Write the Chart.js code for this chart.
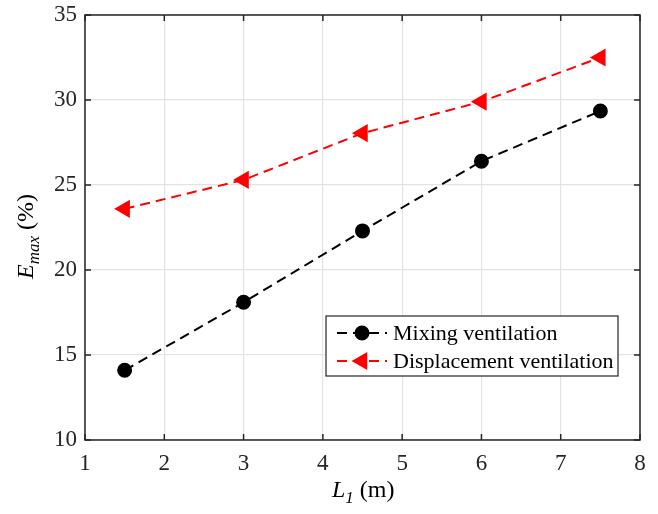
<!DOCTYPE html>
<html>
<head>
<meta charset="utf-8">
<script src="https://cdn.jsdelivr.net/npm/chart.js@4"></script>
<style>
  body { margin: 0; background: #fff; }
  #wrap { width: 658px; height: 514px; }
</style>
</head>
<body>
<div id="wrap"><canvas id="chart" width="658" height="514"></canvas></div>
<script>
// data
const lengths = [1.5, 3, 4.5, 6, 7.5];
const mixing = [14.1, 18.1, 22.3, 26.4, 29.35];
const displacement = [23.6, 25.3, 28.05, 29.9, 32.5];
const xTicks = [1, 2, 3, 4, 5, 6, 7, 8];
const yTicks = [10, 15, 20, 25, 30, 35];

const serif = '"Liberation Serif", "Times New Roman", serif';
const axisColor = '#262626';

// frame, inward ticks, axis titles and legend (MATLAB style)
const decorations = {
  id: 'decorations',
  afterDraw(chart) {
    const ctx = chart.ctx;
    const area = chart.chartArea;
    const xs = chart.scales.x, ys = chart.scales.y;
    ctx.save();
    ctx.strokeStyle = axisColor;
    ctx.lineWidth = 1.5;
    ctx.strokeRect(area.left, area.top, area.right - area.left, area.bottom - area.top);
    const tl = 6;
    ctx.beginPath();
    xTicks.forEach(v => {
      const px = xs.getPixelForValue(v);
      ctx.moveTo(px, area.bottom); ctx.lineTo(px, area.bottom - tl);
      ctx.moveTo(px, area.top); ctx.lineTo(px, area.top + tl);
    });
    yTicks.forEach(v => {
      const py = ys.getPixelForValue(v);
      ctx.moveTo(area.left, py); ctx.lineTo(area.left + tl, py);
      ctx.moveTo(area.right, py); ctx.lineTo(area.right - tl, py);
    });
    ctx.stroke();

    // x title: L_1 (m)
    ctx.fillStyle = '#000';
    ctx.textBaseline = 'alphabetic';
    ctx.textAlign = 'left';
    let x = 332, y = 497;
    ctx.font = 'italic 24px ' + serif;
    ctx.fillText('L', x, y);
    x += ctx.measureText('L').width;
    ctx.font = 'italic 17px ' + serif;
    ctx.fillText('1', x, y + 6);
    x += ctx.measureText('1').width;
    ctx.font = '24px ' + serif;
    ctx.fillText(' (m)', x, y);

    // y title: E_max (%)
    ctx.save();
    ctx.translate(33, 279);
    ctx.rotate(-Math.PI / 2);
    x = 0;
    ctx.font = 'italic 24px ' + serif;
    ctx.fillText('E', x, 0);
    x += ctx.measureText('E').width;
    ctx.font = 'italic 17px ' + serif;
    ctx.fillText('max', x, 6);
    x += ctx.measureText('max').width;
    ctx.font = '24px ' + serif;
    ctx.fillText(' (%)', x, 0);
    ctx.restore();

    // legend box
    const lx = 326, ly = 316, lw = 292, lh = 60;
    ctx.fillStyle = '#fff';
    ctx.fillRect(lx, ly, lw, lh);
    ctx.strokeStyle = axisColor;
    ctx.lineWidth = 1.2;
    ctx.strokeRect(lx, ly, lw, lh);
    chart.data.datasets.forEach((ds, i) => {
      const cy = 333 + i * 28;
      ctx.strokeStyle = ds.borderColor;
      ctx.lineWidth = 2;
      ctx.setLineDash(ds.borderDash);
      ctx.beginPath();
      ctx.moveTo(337, cy); ctx.lineTo(387, cy);
      ctx.stroke();
      ctx.setLineDash([]);
      Chart.helpers.drawPoint(ctx, {
        pointStyle: ds.pointStyle,
        radius: ds.pointRadius,
        rotation: ds.pointRotation || 0,
        borderWidth: 1
      }, 362, cy);
      ctx.fillStyle = ds.pointBackgroundColor;
      ctx.strokeStyle = ds.borderColor;
      ctx.fill();
      ctx.fillStyle = '#000';
      ctx.font = '22px ' + serif;
      ctx.textBaseline = 'middle';
      ctx.fillText(ds.label, 393, cy + 1);
    });
    ctx.restore();
  }
};

new Chart(document.getElementById('chart').getContext('2d'), {
  type: 'line',
  data: {
    datasets: [
      {
        label: 'Mixing ventilation',
        data: lengths.map((v, i) => ({ x: v, y: mixing[i] })),
        borderColor: '#000',
        backgroundColor: '#000',
        pointBackgroundColor: '#000',
        pointBorderColor: '#000',
        pointStyle: 'circle',
        pointRadius: 6.5,
        borderWidth: 2,
        borderDash: [10, 6],
        fill: false
      },
      {
        label: 'Displacement ventilation',
        data: lengths.map((v, i) => ({ x: v, y: displacement[i] })),
        borderColor: '#ff0000',
        backgroundColor: '#ff0000',
        pointBackgroundColor: '#ff0000',
        pointBorderColor: '#ff0000',
        pointStyle: 'triangle',
        pointRotation: -90,
        pointRadius: 8.5,
        borderWidth: 2,
        borderDash: [10, 6],
        fill: false
      }
    ]
  },
  options: {
    responsive: false,
    animation: false,
    layout: { padding: { top: 15, right: 18, left: 0, bottom: 0 } },
    scales: {
      x: {
        type: 'linear',
        min: 1,
        max: 8,
        afterBuildTicks: scale => { scale.ticks = xTicks.map(v => ({ value: v })); },
        afterFit: scale => { scale.height = 74; scale.paddingLeft = 0; scale.paddingRight = 0; },
        ticks: { color: '#262626', font: { family: serif, size: 23 }, padding: 10 },
        grid: { color: '#e3e3e3', lineWidth: 1.2, drawTicks: false },
        border: { display: false }
      },
      y: {
        type: 'linear',
        min: 10,
        max: 35,
        afterBuildTicks: scale => { scale.ticks = yTicks.map(v => ({ value: v })); },
        afterFit: scale => { scale.width = 85; scale.paddingTop = 0; scale.paddingBottom = 0; },
        ticks: { color: '#262626', font: { family: serif, size: 23 }, padding: 8 },
        grid: { color: '#e3e3e3', lineWidth: 1.2, drawTicks: false },
        border: { display: false }
      }
    },
    plugins: {
      legend: { display: false },
      tooltip: { enabled: false }
    }
  },
  plugins: [decorations]
});
</script>
</body>
</html>
